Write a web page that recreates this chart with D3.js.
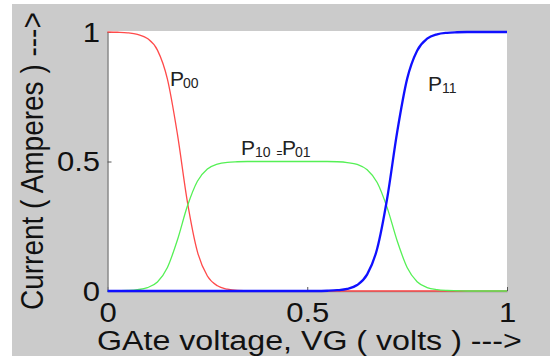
<!DOCTYPE html>
<html>
<head>
<meta charset="utf-8">
<script src="https://cdn.jsdelivr.net/npm/d3@7"></script>
<style>
  html, body { margin: 0; padding: 0; background: #ffffff; }
  svg { display: block; }
  text { font-family: "Liberation Sans", Arial, sans-serif; }
</style>
</head>
<body>
<svg id="chart" width="550" height="356"></svg>
<script>
// Gate voltage samples (volts)
const gateVoltage = [0, 0.025, 0.05, 0.075, 0.1, 0.125, 0.15, 0.175, 0.2, 0.225,
  0.25, 0.275, 0.3, 0.325, 0.35, 0.375, 0.4, 0.425, 0.45, 0.475,
  0.5, 0.525, 0.55, 0.575, 0.6, 0.625, 0.65, 0.675, 0.7, 0.725,
  0.75, 0.775, 0.8, 0.825, 0.85, 0.875, 0.9, 0.925, 0.95, 0.975, 1];

// P00 current (A)
const p00 = [1.000, 0.999, 0.997, 0.991, 0.975, 0.930, 0.818, 0.606, 0.344, 0.152,
  0.058, 0.020, 0.007, 0.002, 0.001, 0, 0, 0, 0, 0,
  0, 0, 0, 0, 0, 0, 0, 0, 0, 0,
  0, 0, 0, 0, 0, 0, 0, 0, 0, 0, 0];

// P10 = P01 current (A)
const p10 = [0, 0.001, 0.002, 0.005, 0.013, 0.035, 0.091, 0.197, 0.328, 0.424,
  0.471, 0.490, 0.497, 0.499, 0.5, 0.5, 0.5, 0.5, 0.5, 0.5,
  0.5, 0.5, 0.5, 0.499, 0.496, 0.489, 0.468, 0.419, 0.322, 0.194,
  0.091, 0.036, 0.013, 0.005, 0.002, 0.001, 0, 0, 0, 0, 0];

// P11 current (A)
const p11 = [0, 0, 0, 0, 0, 0, 0, 0, 0, 0,
  0, 0, 0, 0, 0, 0, 0, 0, 0, 0,
  0, 0, 0.001, 0.003, 0.008, 0.023, 0.064, 0.163, 0.357, 0.613,
  0.819, 0.928, 0.974, 0.991, 0.997, 0.999, 1.000, 1.000, 1.000, 1.000, 1.000];

const xTicks = [0, 0.5, 1];
const yTicks = [0, 0.5, 1];
const xTitle = "GAte voltage, VG ( volts ) --->";
const yTitle = "Current ( Amperes ) --->";

const stretch = 1.15; // text is drawn a little wide

const svg = d3.select("#chart");

// figure background and plot area
svg.append("rect").attr("x", 12).attr("y", 4).attr("width", 538).attr("height", 352)
  .attr("fill", "#cbcbcb");
svg.append("rect").attr("x", 108).attr("y", 31).attr("width", 399).attr("height", 260)
  .attr("fill", "#ffffff");

const x = d3.scaleLinear().domain([0, 1]).range([107.5, 507]);
const y = d3.scaleLinear().domain([0, 1]).range([291, 32]);

// axes
const xAxis = svg.append("g").attr("transform", "translate(0,291)")
  .call(d3.axisBottom(x).tickValues(xTicks).tickSize(-4).tickSizeOuter(0)
    .tickPadding(12).tickFormat(d3.format("")));
const yAxis = svg.append("g").attr("transform", "translate(107.5,0)")
  .call(d3.axisLeft(y).tickValues(yTicks).tickSize(-4).tickSizeOuter(0)
    .tickPadding(6.5).tickFormat(d3.format("")));

[xAxis, yAxis].forEach(a => {
  a.select(".domain").attr("stroke", "#8a8a8a").attr("stroke-width", 1.5);
  a.selectAll(".tick line").attr("stroke", "#555");
  a.selectAll(".tick text")
    .attr("fill", "#111")
    .attr("font-size", 27)
    .attr("font-family", "'Liberation Sans', Arial, sans-serif")
    .attr("transform", `scale(${stretch},1)`);
});
yAxis.selectAll(".tick text").attr("dy", "0.34em");

// curves
const line = d3.line().curve(d3.curveMonotoneX);
const series = [
  { values: p00, color: "#ff4a4a", width: 1.3 },
  { values: p10, color: "#55f055", width: 1.3 },
  { values: p11, color: "#1010ff", width: 2.3 }
];
series.forEach(s => {
  svg.append("path")
    .attr("d", line(gateVoltage.map((v, i) => [x(v), y(s.values[i])])))
    .attr("fill", "none")
    .attr("stroke", s.color)
    .attr("stroke-width", s.width)
    .attr("stroke-linejoin", "round");
});

// axis titles
svg.append("text")
  .attr("transform", `translate(97,350) scale(${stretch},1)`)
  .attr("font-size", 28).attr("fill", "#111")
  .text(xTitle);
svg.append("text")
  .attr("transform", `translate(43,310) scale(${stretch},1) rotate(-90)`)
  .attr("font-size", 28).attr("fill", "#111")
  .text(yTitle);

// curve labels
function label(parts) {
  const t = svg.append("text").attr("fill", "#222");
  parts.forEach(p => {
    t.append("tspan").attr("x", p.x).attr("y", p.y).attr("font-size", p.size).text(p.text);
  });
}
label([
  { text: "P", x: 170, y: 86, size: 21 },
  { text: "00", x: 183, y: 88, size: 14 }
]);
label([
  { text: "P", x: 241, y: 154.5, size: 21 },
  { text: "10", x: 255, y: 157, size: 14 },
  { text: "=", x: 276.5, y: 157, size: 10 },
  { text: "P", x: 282, y: 154.5, size: 21 },
  { text: "01", x: 295, y: 157, size: 14 }
]);
label([
  { text: "P", x: 428, y: 91, size: 21 },
  { text: "11", x: 442, y: 93, size: 14 }
]);
</script>
</body>
</html>
